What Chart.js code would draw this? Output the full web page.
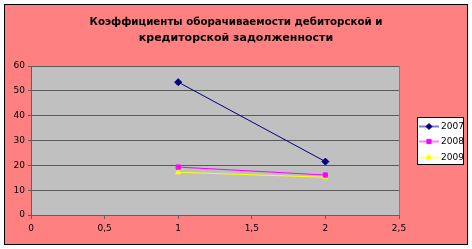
<!DOCTYPE html>
<html><head><meta charset="utf-8">
<script src="https://cdn.jsdelivr.net/npm/chart.js@4"></script>
<style>html,body{margin:0;padding:0;background:#fff;}#wrap{width:472px;height:249px;position:relative;}</style>
</head><body><div id="wrap"><canvas id="c" width="472" height="249"></canvas></div>
<script>
const titleLines = ['Коэффициенты оборачиваемости дебиторской и', 'кредиторской задолженности'];
const xValues = [1, 2];
const seriesNames = ['2007', '2008', '2009'];
const values2007 = [53.5, 21.5];
const values2008 = [19.3, 16.1];
const values2009 = [17.2, 15.2];
const xMin = 0, xMax = 2.5, xStep = 0.5;
const yMin = 0, yMax = 60, yStep = 10;

const colors = ['#000080', '#FF00FF', '#FFFF00'];
const styles = ['rectRot', 'rect', 'triangle'];
const allValues = [values2007, values2008, values2009];

const datasets = seriesNames.map((n, i) => ({
  label: n,
  data: xValues.map((x, j) => ({x: x, y: allValues[i][j]})),
  showLine: true,
  borderColor: colors[i],
  backgroundColor: colors[i],
  borderWidth: 1,
  pointStyle: styles[i],
  pointRadius: i === 0 ? 3.5 : 3,
  pointBorderWidth: 1,
  pointBorderColor: colors[i],
  pointBackgroundColor: colors[i],
  pointHoverRadius: 3
}));

const frame = {
  id: 'frame',
  beforeDraw(chart) {
    const ctx = chart.ctx;
    ctx.save();
    ctx.fillStyle = '#fff';
    ctx.fillRect(0, 0, 472, 249);
    ctx.fillStyle = '#FF8080';
    ctx.fillRect(4, 4, 464, 241);
    ctx.strokeStyle = '#000';
    ctx.lineWidth = 1;
    ctx.strokeRect(4.5, 4.5, 463, 240);
    const a = chart.chartArea;
    ctx.fillStyle = '#C0C0C0';
    ctx.fillRect(a.left, a.top, a.right - a.left, a.bottom - a.top);
    ctx.strokeStyle = '#808080';
    ctx.strokeRect(a.left + 0.5, a.top + 0.5, a.right - a.left, a.bottom - a.top);
    // title
    ctx.fillStyle = '#000';
    ctx.font = 'bold 11px "DejaVu Sans"';
    ctx.textAlign = 'center';
    ctx.textBaseline = 'middle';
    ctx.fillText(titleLines[0], 236, 22, 293);
    ctx.fillText(titleLines[1], 236, 38, 293);
    ctx.restore();
  },
  afterDraw(chart) {
    const ctx = chart.ctx;
    ctx.save();
    ctx.fillStyle = '#fff';
    ctx.fillRect(417, 117, 47, 48);
    ctx.strokeStyle = '#000';
    ctx.lineWidth = 1;
    ctx.strokeRect(417.5, 117.5, 46, 47);
    const ys = [126, 141, 157];
    ctx.font = '9px "DejaVu Sans"';
    ctx.textAlign = 'left';
    ctx.textBaseline = 'middle';
    chart.data.datasets.forEach((d, i) => {
      const y = ys[i];
      ctx.globalAlpha = 0.5;
      ctx.strokeStyle = d.borderColor;
      ctx.lineWidth = 2;
      ctx.beginPath(); ctx.moveTo(419, y + 0.5); ctx.lineTo(439, y + 0.5); ctx.stroke();
      ctx.globalAlpha = 1;
      ctx.fillStyle = d.backgroundColor;
      ctx.strokeStyle = d.borderColor;
      ctx.lineWidth = 1;
      Chart.helpers.drawPoint(ctx, {pointStyle: d.pointStyle, radius: 3, borderWidth: 1, rotation: 0}, 429, y + 0.5);
      ctx.fillStyle = '#000';
      ctx.fillText(d.label, 441, y + 1);
    });
    ctx.restore();
  }
};

new Chart(document.getElementById('c'), {
  type: 'scatter',
  data: { datasets: datasets },
  options: {
    responsive: false,
    animation: false,
    events: [],
    layout: { padding: { left: 5, right: 73, top: 66, bottom: 12 } },
    plugins: { legend: { display: false }, title: { display: false }, tooltip: { enabled: false } },
    scales: {
      x: {
        type: 'linear', min: xMin, max: xMax,
        afterFit(s) { s.height = 22; },
        ticks: { stepSize: xStep, color: '#000', font: { family: 'DejaVu Sans', size: 9 }, padding: 4,
          callback: v => String(v).replace('.', ',') },
        grid: { display: true, drawOnChartArea: false, drawTicks: true, tickLength: 4, color: '#606060' },
        border: { color: '#606060', width: 1 }
      },
      y: {
        type: 'linear', min: yMin, max: yMax,
        afterFit(s) { s.width = 26; },
        ticks: { stepSize: yStep, color: '#000', font: { family: 'DejaVu Sans', size: 9 }, padding: 3 },
        grid: { color: '#5a5a5a', lineWidth: 1, tickLength: 3, drawTicks: true },
        border: { color: '#606060', width: 1 }
      }
    }
  },
  plugins: [frame]
});
</script>
</body></html>
